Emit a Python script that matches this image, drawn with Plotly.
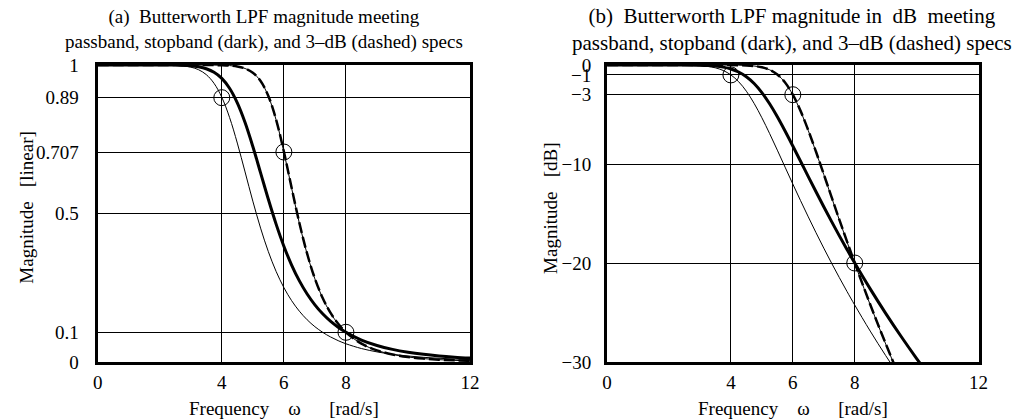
import numpy as np
import plotly.graph_objects as go

# Frequency samples [rad/s]
w = [0, 1, 2, 2.5, 3, 3.25, 3.5, 3.75, 4, 4.25, 4.5, 4.75, 5, 5.25, 5.5, 5.75, 6,
     6.25, 6.5, 6.75, 7, 7.25, 7.5, 7.75, 8, 8.5, 9, 9.5, 10, 10.5, 11, 11.5, 12]

# Linear magnitudes of the four Butterworth responses
mag_passband = [1.0, 1.0, 0.9999, 0.9988, 0.9928, 0.9842, 0.9676, 0.9383, 0.8913,
                0.8236, 0.7372, 0.6399, 0.5417, 0.4507, 0.3715, 0.3050, 0.2506,
                0.2065, 0.1710, 0.1422, 0.1189, 0.1000, 0.08455, 0.07182, 0.06134,
                0.04531, 0.03408, 0.02601, 0.02013, 0.01577, 0.01250, 0.01001, 0.00809]
mag_stopband = [1.0, 1.0, 1.0, 0.9996, 0.9973, 0.9940, 0.9875, 0.9756, 0.9549,
                0.9217, 0.8724, 0.8062, 0.7256, 0.6369, 0.5478, 0.4642, 0.3900,
                0.3265, 0.2731, 0.2289, 0.1924, 0.1623, 0.1375, 0.1170, 0.1000,
                0.07404, 0.05571, 0.04254, 0.03293, 0.02580, 0.02045, 0.01638, 0.01324]
mag_3db_thin = [1.0, 1.0, 1.0, 1.0, 1.0, 1.0, 0.9999, 0.9997, 0.9992, 0.9980,
                0.9950, 0.9883, 0.9740, 0.9458, 0.8951, 0.8150, 0.7071, 0.5851,
                0.4664, 0.3634, 0.2798, 0.2150, 0.1655, 0.1280, 0.0997, 0.06152,
                0.03901, 0.02532, 0.01680, 0.01137, 0.00784, 0.00549, 0.00391]
mag_3db_dashed = [1.0, 1.0, 1.0, 1.0, 1.0, 1.0, 0.9999, 0.9997, 0.9992, 0.9980,
                  0.9951, 0.9884, 0.9742, 0.9462, 0.8958, 0.8161, 0.7085, 0.5866,
                  0.4679, 0.3646, 0.2808, 0.2158, 0.1661, 0.1286, 0.1001, 0.06177,
                  0.03916, 0.02541, 0.01686, 0.01141, 0.00787, 0.00552, 0.00392]

# Specification points
spec_w = [4, 6, 8]
spec_lin = [0.89, 0.707, 0.1]
spec_db = [-1, -3, -20]

# Tick labels
x_ticks = [0, 4, 6, 8, 12]
lin_ticks = [0, 0.1, 0.5, 0.707, 0.89, 1]
lin_ticktext = ["0", "0.1", "0.5", "0.707", "0.89", "1"]
db_ticks = [-30, -20, -10, -3, -1, 0]
db_ticktext = ["\u221230", "\u221220", "\u221210", "\u22123", "\u22121", "0"]


def to_db(m):
    return list(20 * np.log10(np.asarray(m)))


FONT = "Liberation Serif"
W, H = 1026, 419
TOP, BOTTOM = 65, 362
PLOT_H = BOTTOM - TOP

fig = go.Figure()

panels = [
    ("x", "y", lambda m: m, spec_lin),
    ("x2", "y2", to_db, spec_db),
]
for xa, ya, conv, spec in panels:
    fig.add_trace(go.Scatter(x=w, y=conv(mag_passband), mode="lines", xaxis=xa, yaxis=ya,
                             line=dict(color="black", width=1, shape="spline")))
    fig.add_trace(go.Scatter(x=w, y=conv(mag_3db_thin), mode="lines", xaxis=xa, yaxis=ya,
                             line=dict(color="black", width=1, shape="spline")))
    fig.add_trace(go.Scatter(x=w, y=conv(mag_3db_dashed), mode="lines", xaxis=xa, yaxis=ya,
                             line=dict(color="black", width=2.5, dash="11px,4px", shape="spline")))
    fig.add_trace(go.Scatter(x=w, y=conv(mag_stopband), mode="lines", xaxis=xa, yaxis=ya,
                             line=dict(color="black", width=3, shape="spline")))
    fig.add_trace(go.Scatter(x=spec_w, y=spec, mode="markers", xaxis=xa, yaxis=ya,
                             marker=dict(symbol="circle-open", size=16,
                                         color="black", line=dict(width=1, color="black"))))

axis_common = dict(showline=True, mirror=True, linewidth=3, linecolor="black",
                   showgrid=True, gridcolor="black", gridwidth=1, zeroline=False,
                   ticks="", tickfont=dict(family=FONT, size=19, color="black"))

fig.update_layout(
    width=W, height=H,
    margin=dict(l=0, r=0, t=TOP, b=H - BOTTOM, pad=0),
    paper_bgcolor="white", plot_bgcolor="white",
    showlegend=False,
    font=dict(family=FONT, size=19, color="black"),
    xaxis=dict(domain=[94 / W, 472 / W], range=[0, 12], tickvals=x_ticks,
               anchor="y", ticklabelstandoff=1, **axis_common),
    yaxis=dict(domain=[0, 1], range=[0, 1], tickvals=lin_ticks, ticktext=lin_ticktext,
               anchor="x", ticklabelstandoff=12, **axis_common),
    xaxis2=dict(domain=[611 / W, 988 / W], range=[0, 12], tickvals=x_ticks,
                anchor="y2", ticklabelstandoff=1, **axis_common),
    yaxis2=dict(domain=[0, 1], range=[-30, 0], tickvals=db_ticks, ticktext=db_ticktext,
                anchor="x2", ticklabelstandoff=9, **axis_common),
)


def py(px):
    return (BOTTOM - px) / PLOT_H


nb = "\u00a0"
annotations = [
    dict(text=f"(a){nb}{nb}Butterworth LPF magnitude meeting<br>"
              f"passband, stopband (dark), and 3\u2013dB (dashed) specs",
         x=263 / W, y=py(29.5), size=19),
    dict(text=f"(b){nb}{nb}Butterworth LPF magnitude in{nb}{nb}dB{nb}{nb}meeting<br>"
              f"passband, stopband (dark), and 3\u2013dB (dashed) specs",
         x=799 / W, y=py(29.5), size=21),
    dict(text=f"Frequency{nb * 4}\u03c9{nb * 6}[rad/s]", x=283 / W, y=py(408), size=19),
    dict(text=f"Frequency{nb * 4}\u03c9{nb * 6}[rad/s]", x=800 / W, y=py(408), size=19),
    dict(text=f"Magnitude{nb * 3}[linear]", x=21 / W, y=py(208), textangle=-90, size=19),
    dict(text=f"Magnitude{nb * 3}[dB]", x=553 / W, y=py(208), textangle=-90, size=19),
]
for a in annotations:
    size = a.pop("size")
    fig.add_annotation(xref="paper", yref="paper", xanchor="center", yanchor="middle",
                       showarrow=False, font=dict(family=FONT, size=size, color="black"), **a)

fig.write_html("out.html")
